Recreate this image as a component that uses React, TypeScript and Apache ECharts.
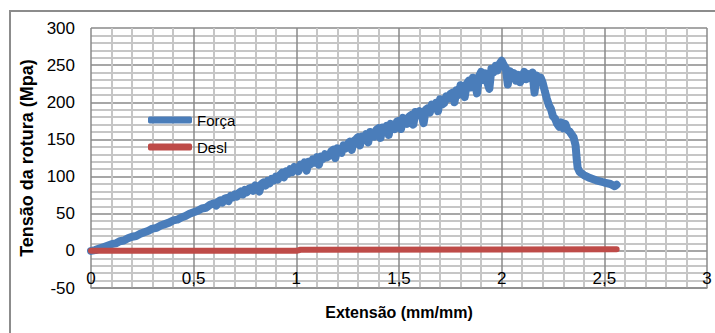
import React, { useEffect, useRef } from "react";
import * as echarts from "echarts";

const X_TICKS_INTERVAL = 0.5;
const Y_TICKS_INTERVAL = 50;

// Força: [extensão, tensão]
const forca: [number, number][] = [
  [0.0, 0], [0.02, 1], [0.04, 3], [0.06, 5], [0.08, 7], [0.1, 9], [0.12, 10], [0.14, 13], [0.16, 14], [0.18, 17],
  [0.2, 19], [0.22, 20], [0.24, 23], [0.26, 25], [0.28, 27], [0.3, 30], [0.32, 31], [0.34, 34], [0.36, 36], [0.38, 38],
  [0.4, 41], [0.42, 42], [0.44, 45], [0.46, 47], [0.48, 50], [0.5, 52], [0.52, 54], [0.54, 57], [0.56, 58], [0.58, 62],
  [0.6, 64], [0.61, 61], [0.62, 66], [0.63, 68], [0.64, 65], [0.65, 70], [0.66, 71], [0.67, 67], [0.68, 74], [0.69, 72],
  [0.7, 76], [0.71, 73], [0.72, 78], [0.73, 80], [0.74, 76], [0.75, 82], [0.76, 79], [0.77, 84], [0.78, 85], [0.79, 81],
  [0.8, 88], [0.81, 84], [0.82, 80], [0.83, 90], [0.84, 92], [0.85, 88], [0.86, 94], [0.87, 91], [0.88, 97], [0.89, 95],
  [0.9, 100], [0.91, 96], [0.92, 102], [0.93, 105], [0.94, 99], [0.95, 107], [0.96, 104], [0.97, 110], [0.98, 106], [0.99, 113],
  [1.0, 112], [1.01, 107], [1.02, 116], [1.03, 113], [1.04, 119], [1.05, 108], [1.06, 120], [1.07, 117], [1.08, 123], [1.09, 119],
  [1.1, 126], [1.11, 116], [1.12, 127], [1.13, 124], [1.14, 130], [1.15, 126], [1.16, 128], [1.17, 134], [1.18, 136], [1.19, 125],
  [1.2, 138], [1.21, 134], [1.22, 132], [1.23, 142], [1.24, 138], [1.25, 144], [1.26, 147], [1.27, 136], [1.28, 148], [1.29, 150],
  [1.3, 153], [1.31, 142], [1.32, 154], [1.33, 151], [1.34, 157], [1.35, 146], [1.36, 160], [1.37, 157], [1.38, 154], [1.39, 163],
  [1.4, 165], [1.41, 152], [1.42, 166], [1.43, 163], [1.44, 168], [1.45, 156], [1.46, 171], [1.47, 168], [1.48, 164], [1.49, 174],
  [1.5, 175], [1.51, 164], [1.52, 179], [1.53, 176], [1.54, 171], [1.55, 181], [1.56, 183], [1.57, 170], [1.58, 187], [1.59, 184],
  [1.6, 188], [1.61, 183], [1.62, 172], [1.63, 190], [1.64, 192], [1.65, 186], [1.66, 197], [1.67, 194], [1.68, 199], [1.69, 188],
  [1.7, 204], [1.71, 197], [1.72, 199], [1.73, 208], [1.74, 205], [1.75, 211], [1.76, 213], [1.77, 200], [1.78, 216], [1.79, 210],
  [1.8, 223], [1.81, 214], [1.82, 207], [1.83, 225], [1.84, 229], [1.85, 220], [1.86, 233], [1.87, 226], [1.88, 212], [1.89, 235],
  [1.9, 241], [1.91, 230], [1.92, 239], [1.93, 227], [1.94, 218], [1.95, 245], [1.96, 240], [1.97, 249], [1.98, 243], [1.99, 252],
  [2.0, 256], [2.01, 250], [2.02, 246], [2.03, 224], [2.04, 242], [2.05, 234], [2.06, 239], [2.07, 229], [2.08, 237], [2.09, 227],
  [2.1, 235], [2.11, 241], [2.12, 231], [2.13, 238], [2.14, 233], [2.15, 240], [2.16, 213], [2.17, 236], [2.18, 231], [2.19, 233],
  [2.2, 226], [2.21, 215], [2.22, 205], [2.23, 196], [2.24, 191], [2.25, 181], [2.26, 178], [2.27, 171], [2.28, 167], [2.29, 173],
  [2.3, 165], [2.31, 171], [2.32, 163], [2.33, 161], [2.34, 157], [2.35, 153], [2.36, 142], [2.365, 125], [2.37, 112], [2.38, 106],
  [2.4, 102], [2.43, 98], [2.46, 95], [2.5, 92], [2.53, 90], [2.55, 87], [2.56, 89],
];

// Desl: [extensão, valor]
const desl: [number, number][] = [
  [0.0, 0], [1.0, 0], [1.02, 1.5], [2.56, 2],
];

const SERIES_NAMES = ["Força", "Desl"];
const X_TITLE = "Extensão (mm/mm)";
const Y_TITLE = "Tensão da rotura (Mpa)";

const FONT = "'Liberation Sans', Arial, sans-serif";

export default function App() {
  const ref = useRef<HTMLDivElement>(null);
  useEffect(() => {
    if (!ref.current) return;
    const chart = echarts.init(ref.current, null, { renderer: "svg" });
    chart.setOption({
      animation: false,
      backgroundColor: "#ffffff",
      textStyle: { fontFamily: FONT },
      graphic: [
        {
          type: "rect",
          shape: { x: 10, y: 11, width: 730, height: 360 },
          style: { fill: "none", stroke: "#8c8c8c", lineWidth: 2 },
          silent: true,
        },
      ],
      grid: { left: 91, top: 28, right: 8, bottom: 45, containLabel: false, outerBoundsMode: "none" },
      legend: {
        orient: "vertical",
        left: 148,
        top: 112,
        padding: 0,
        itemWidth: 44,
        itemHeight: 7,
        itemGap: 11,
        icon: "roundRect",
        data: SERIES_NAMES,
        textStyle: { fontFamily: FONT, fontSize: 15, color: "#000", lineHeight: 16, padding: [0, 0, 0, 0] },
      },
      xAxis: {
        type: "value",
        min: 0,
        max: 3,
        interval: X_TICKS_INTERVAL,
        name: X_TITLE,
        nameLocation: "middle",
        nameGap: 16,
        nameTextStyle: { fontFamily: FONT, fontSize: 16, fontWeight: "bold", color: "#000" },
        axisLine: { show: true, onZero: false, lineStyle: { color: "#8a8a8a", width: 1.5 } },
        axisTick: { show: false },
        axisLabel: {
          margin: -18,
          fontFamily: FONT,
          fontSize: 17,
          color: "#000",
          formatter: (v: number) => String(v).replace(".", ","),
        },
        splitLine: { show: true, lineStyle: { color: "#8a8a8a", width: 1.5 } },
        minorTick: { show: false, splitNumber: 5 },
        minorSplitLine: { show: true, lineStyle: { color: "#c6c6c6", width: 2 } },
      },
      yAxis: {
        type: "value",
        min: -50,
        max: 300,
        interval: Y_TICKS_INTERVAL,
        name: Y_TITLE,
        nameLocation: "middle",
        nameGap: 48,
        nameTextStyle: { fontFamily: FONT, fontSize: 18, fontWeight: "bold", color: "#000" },
        axisLine: { show: false, onZero: false },
        axisTick: { show: false },
        axisLabel: { margin: 16, fontFamily: FONT, fontSize: 17, color: "#000" },
        splitLine: { show: true, lineStyle: { color: "#8a8a8a", width: 1.5 } },
        minorTick: { show: false, splitNumber: 5 },
        minorSplitLine: { show: true, lineStyle: { color: "#c6c6c6", width: 2 } },
      },
      series: [
        {
          name: SERIES_NAMES[0],
          type: "line",
          data: forca,
          showSymbol: false,
          symbol: "none",
          color: "#4a7dba",
          lineStyle: { width: 8, color: "#4a7dba", cap: "round", join: "round" },
        },
        {
          name: SERIES_NAMES[1],
          type: "line",
          data: desl,
          showSymbol: false,
          symbol: "none",
          color: "#be4b48",
          lineStyle: { width: 6, color: "#be4b48", cap: "round", join: "round" },
        },
      ],
    });
    return () => chart.dispose();
  }, []);
  return (
    <div
      ref={ref}
      style={{ position: "fixed", left: 0, top: 0, width: 715, height: 333, background: "#fff" }}
    />
  );
}
